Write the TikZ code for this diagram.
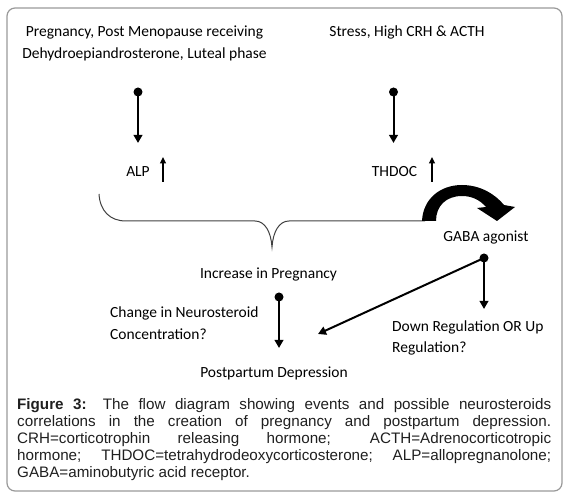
\documentclass[tikz,border=0pt]{standalone}
\usepackage{fontspec}
\setmainfont{Liberation Sans}
\newfontfamily\diagfont{Carlito}
\usetikzlibrary{arrows.meta}

\begin{document}
\begin{tikzpicture}[x=1pt,y=-1pt,
  lbl/.style={font=\diagfont\fontsize{15.5}{22}\selectfont, inner sep=0pt, anchor=base},
  lblw/.style={lbl, anchor=base west},
  captxt/.style={font=\fontsize{15.2}{17}\selectfont, text=black!88, inner sep=0pt, anchor=base west},
  conn/.style={line width=2pt, -{Triangle[length=8pt,width=8.5pt]}},
  thinup/.style={line width=1.3pt, -{Triangle[length=6.5pt,width=6pt]}},
  bracestyle/.style={draw=black!75, line width=1pt},
  framestyle/.style={draw=black!40, line width=1.2pt, rounded corners=8pt}
]
\useasboundingbox (0,0) rectangle (566,497);
\draw[framestyle] (7,8) rectangle (562,491);

% labels
\node[lbl] (preg1) at (144.5,37) {Pregnancy, Post Menopause receiving};
\node[lbl] (preg2) at (144.5,59) {Dehydroepiandrosterone, Luteal phase};
\node[lbl] (stress) at (407,37) {Stress, High CRH \& ACTH};
\node[lbl] (alp) at (138,177) {ALP};
\node[lbl] (thdoc) at (394.5,177) {THDOC};
\node[lbl] (gaba) at (486,242) {GABA agonist};
\node[lbl] (incr) at (268.5,279) {Increase in Pregnancy};
\node[lblw] (chg1) at (110,318) {Change in Neurosteroid};
\node[lblw] (chg2) at (110,340) {Concentration?};
\node[lblw] (down1) at (392,332) {Down Regulation OR Up};
\node[lblw] (down2) at (392,353) {Regulation?};
\node[lbl] (ppd) at (274,378) {Postpartum Depression};

% connector points
\coordinate (d1) at (138,92);
\coordinate (t1) at (138,143);
\coordinate (d2) at (393.5,92);
\coordinate (t2) at (393.5,143);
\coordinate (u1s) at (163,182);
\coordinate (u1e) at (163,157);
\coordinate (u2s) at (432,182);
\coordinate (u2e) at (432,157);
\coordinate (d3) at (484,258);
\coordinate (t3) at (484,309);
\coordinate (t4) at (318,334);
\coordinate (d5) at (279,297);
\coordinate (t5) at (279,348);

\draw[conn] (d1) -- (t1);
\draw[conn] (d2) -- (t2);
\draw[thinup] (u1s) -- (u1e);
\draw[thinup] (u2s) -- (u2e);
\draw[conn] (d3) -- (t3);
\draw[conn] (d3) -- (t4);
\draw[conn] (d5) -- (t5);
\foreach \p in {d1,d2,d3,d5} \fill (\p) circle (4.5pt);

% brace
\draw[bracestyle] (99,194) .. controls (100,211) and (110,221) .. (126,221)
  -- (255,221) .. controls (265,221) and (271,232) .. (272,247)
  .. controls (273,232) and (279,221) .. (289,221) -- (425,221);

% thick curved arrow
\fill (422,221) .. controls (423,199) and (440,185) .. (462,185)
  .. controls (480,185) and (495,194) .. (504,205)
  -- (515,207) -- (497,221) -- (477,208) -- (486,207)
  .. controls (480,200) and (472,196) .. (462,196)
  .. controls (446,196) and (436,206) .. (436,221) -- cycle;

% caption
\node[captxt] (cap1) at (17,410) {\makebox[534pt][s]{\textbf{Figure 3:} The flow diagram showing events and possible neurosteroids}};
\node[captxt] (cap2) at (17,427) {\makebox[534pt][s]{correlations in the creation of pregnancy and postpartum depression.}};
\node[captxt] (cap3) at (17,444) {\makebox[534pt][s]{CRH=corticotrophin releasing hormone; ACTH=Adrenocorticotropic}};
\node[captxt] (cap4) at (17,461) {\makebox[534pt][s]{hormone; THDOC=tetrahydrodeoxycorticosterone; ALP=allopregnanolone;}};
\node[captxt] (cap5) at (17,478) {GABA=aminobutyric acid receptor.};
\end{tikzpicture}
\end{document}
